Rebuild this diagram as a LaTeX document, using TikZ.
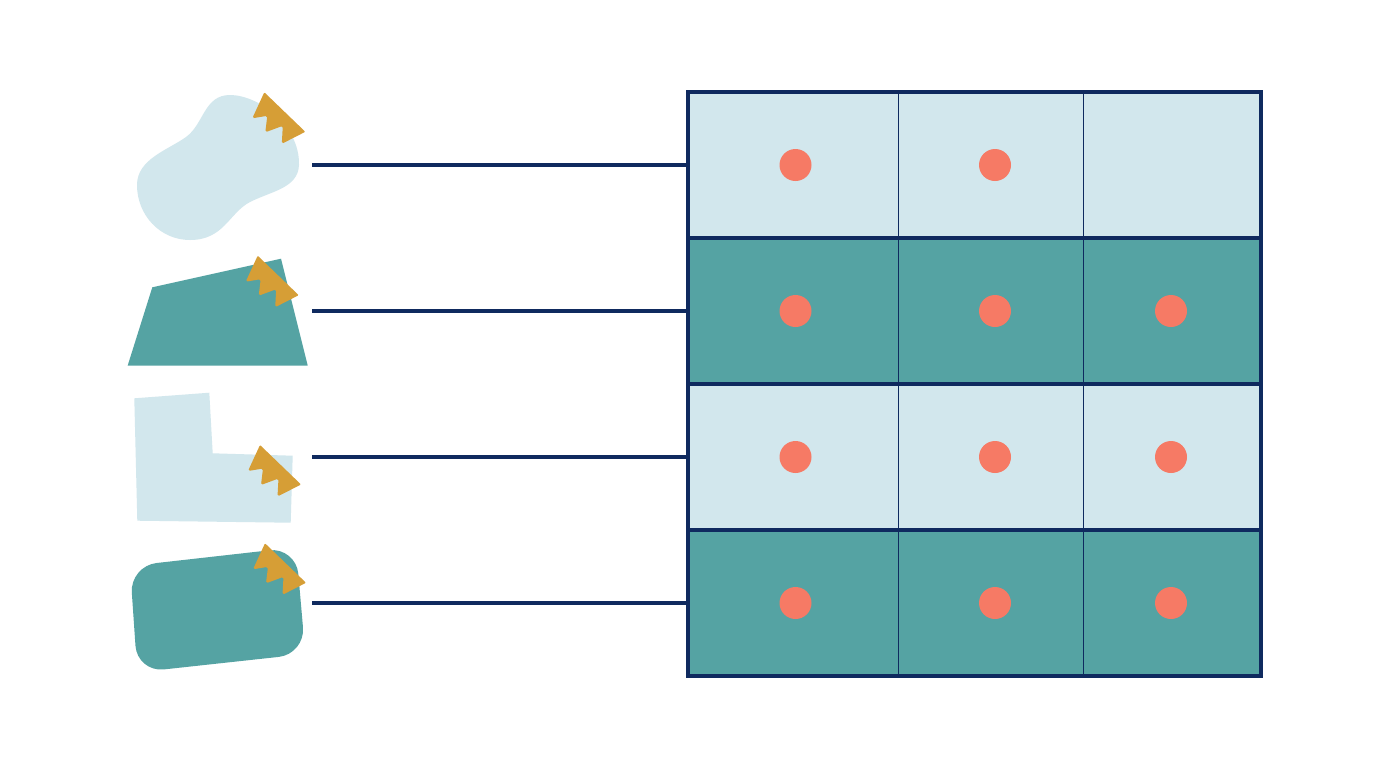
\documentclass[tikz,border=0pt]{standalone}
\usetikzlibrary{calc}
\definecolor{lightc}{HTML}{D2E7ED}
\definecolor{tealc}{HTML}{55A3A3}
\definecolor{navyc}{HTML}{0F2A5F}
\definecolor{coralc}{HTML}{F67A65}
\definecolor{goldc}{HTML}{D69E36}
\tikzset{
  x=0.75pt,y=-0.75pt,
  cell/.style={draw=none,minimum width=#1*0.75pt,minimum height=146*0.75pt,inner sep=0pt,outer sep=0pt,anchor=north west},
  dotn/.style={circle,fill=coralc,minimum size=24pt,inner sep=0pt,outer sep=0pt},
  conn/.style={draw=navyc,line width=2.6pt},
  rowline/.style={draw=navyc,line width=2.7pt},
  colline/.style={draw=navyc,line width=0.65pt},
  tagshape/.style={fill=goldc},
}
\newcommand{\tagat}[2]{%
  \fill[tagshape,shift={(#1,#2)},rounded corners=0.7pt] (0,0) -- (41,39.5)
    [rounded corners=1.3pt] -- (17.5,51.5) -- (18.5,33.5) -- (1,40) -- (3,23.5) -- (-12,26)
    [rounded corners=0.7pt] -- cycle;}
\begin{document}
\begin{tikzpicture}
\useasboundingbox (0,0) rectangle (1376,768);
\fill[white] (0,0) rectangle (1376,768);
% left shapes
\fill[lightc] (230,95) .. controls (258,95) and (300,125) .. (299,165)
 .. controls (298,188) and (272,191) .. (250,202)
 .. controls (229,213) and (224,240) .. (190,240)
 .. controls (160,240) and (137,215) .. (137,185)
 .. controls (137,159) and (168,150) .. (186,137)
 .. controls (204,124) and (204,95) .. (230,95) -- cycle;
\fill[tealc] (152.3,287.3) -- (281,258.7) -- (307.7,365.5) -- (127.7,365.5) -- cycle;
\fill[lightc] (134.3,398.3) -- (209.3,392.7) -- (212.7,453.3) -- (292.7,455.7) -- (290.7,522.7) -- (137.3,520.7) -- cycle;
\fill[tealc,rounded corners=20pt] (130,566) -- (296,547.3) -- (305.3,654) -- (137.3,672.3) -- cycle;
\tagat{264.3}{92.3}
\tagat{257.7}{255.7}
\tagat{260}{445}
\tagat{265}{543.3}
% grid
\foreach \n/\y/\c in {1/92/lightc,2/238/tealc,3/384/lightc,4/530/tealc}{
  \node[cell=210,fill=\c] (c\n a) at (688,\y) {};
  \node[cell=185,fill=\c] (c\n b) at (898,\y) {};
  \node[cell=178,fill=\c] (c\n c) at (1083,\y) {};
}
\foreach \n/\y in {1/165,2/311,3/457,4/603}{
  \coordinate (s\n) at (312,\y);
  \node[dotn] (d\n a) at (795.5,\y) {};
  \node[dotn] (d\n b) at (995,\y) {};
  \draw[conn] (s\n) -- (c\n a.west);
}
\foreach \n/\y in {2/311,3/457,4/603}{\node[dotn] (d\n c) at (1171,\y) {};}
\draw[colline] (c1b.north west) -- (c4b.south west);
\draw[colline] (c1c.north west) -- (c4c.south west);
\draw[rowline] (c2a.north west) -- (c2c.north east);
\draw[rowline] (c3a.north west) -- (c3c.north east);
\draw[rowline] (c4a.north west) -- (c4c.north east);
\draw[rowline] (c1a.north west) rectangle (c4c.south east);
\end{tikzpicture}
\end{document}
